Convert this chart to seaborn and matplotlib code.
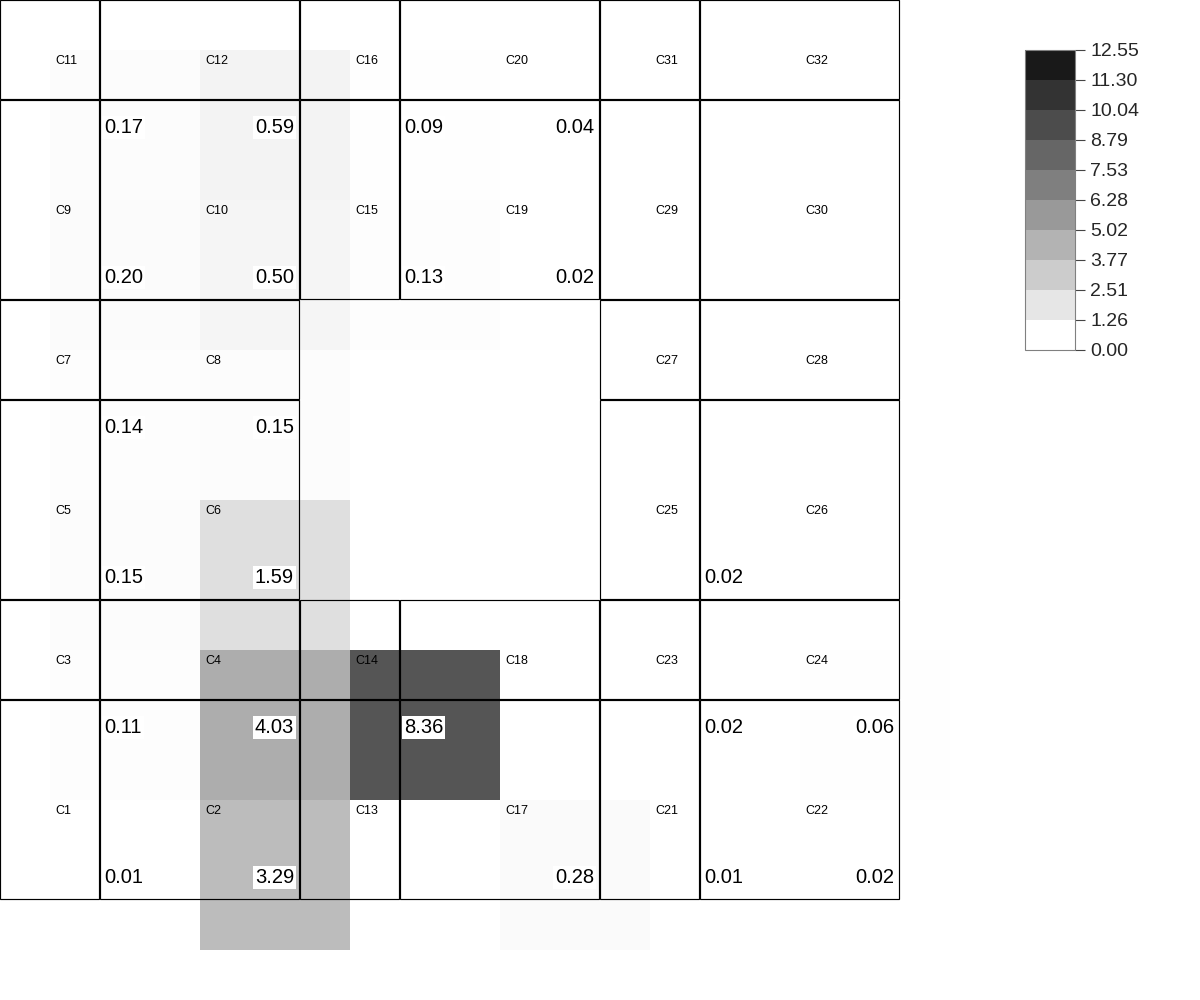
import numpy as np
import pandas as pd
import seaborn as sns
import matplotlib.pyplot as plt
from matplotlib.colors import ListedColormap, BoundaryNorm, Normalize
from matplotlib.colorbar import ColorbarBase
from matplotlib.patches import Rectangle

#%% data

# cell names, laid out as they appear (top row first)
cell_labels = [
    ["C11", "C12", "C16", "C20", "C31", "C32"],
    ["C9",  "C10", "C15", "C19", "C29", "C30"],
    ["C7",  "C8",  "",    "",    "C27", "C28"],
    ["C5",  "C6",  "",    "",    "C25", "C26"],
    ["C3",  "C4",  "C14", "C18", "C23", "C24"],
    ["C1",  "C2",  "C13", "C17", "C21", "C22"],
]

# values per cell, nan where nothing is shown
cell_values = [
    [0.17, 0.59, 0.09, 0.04, np.nan, np.nan],
    [0.20, 0.50, 0.13, 0.02, np.nan, np.nan],
    [0.14, 0.15, np.nan, np.nan, np.nan, np.nan],
    [0.15, 1.59, np.nan, np.nan, 0.02, np.nan],
    [0.11, 4.03, 8.36, np.nan, 0.02, 0.06],
    [0.01, 3.29, np.nan, 0.28, 0.01, 0.02],
]

cbar_bounds = [0.00, 1.26, 2.51, 3.77, 5.02, 6.28, 7.53, 8.79, 10.04, 11.30, 12.55]
cbar_labels = ["0.00", "1.26", "2.51", "3.77", "5.02", "6.28", "7.53", "8.79", "10.04", "11.30", "12.55"]

# wall positions of the floor plan (1 unit = 100 px)
wall_cols = [0, 1, 3, 4, 6, 7, 9]
wall_rows = [0, 1, 3, 4, 6, 7, 9]

#%% style
sns.set_style("white")
plt.rcParams['font.family'] = ['Liberation Sans', 'DejaVu Sans']

vmin, vmax = cbar_bounds[0], cbar_bounds[-1]
cmap = plt.get_cmap("gray_r")

df = pd.DataFrame(cell_values)

fig = plt.figure(figsize=(12, 10), dpi=100)

# heatmap sits on px 50..950 in both directions
ax_heat = fig.add_axes([50 / 1200, 0.05, 900 / 1200, 0.9])
sns.heatmap(df, ax=ax_heat, cmap=cmap, vmin=vmin, vmax=vmax, cbar=False,
            xticklabels=False, yticklabels=False)
ax_heat.set_xlabel("")
ax_heat.set_ylabel("")
ax_heat.axis("off")

# overlay in plan units, y downward
ax = fig.add_axes([0, 0, 1000 / 1200, 1])
ax.set_xlim(0, 10)
ax.set_ylim(10, 0)
ax.axis("off")
ax.patch.set_visible(False)

# rooms = the wall grid minus the middle block (hallway)
# each room outline is inset half a pixel so shared walls come out doubled
half_px = 0.005
for i in range(6):
    for j in range(6):
        if cell_labels[i][j] == "":
            continue
        x0, x1 = wall_cols[j], wall_cols[j + 1]
        y0, y1 = wall_rows[i], wall_rows[i + 1]
        ax.add_patch(Rectangle((x0 + half_px, y0 + half_px),
                               x1 - x0 - 2 * half_px, y1 - y0 - 2 * half_px,
                               fill=False, edgecolor="black", lw=0.85,
                               snap=False, clip_on=False))

# cell names and values, placed in the heatmap cells
cell0, cell_w = 0.5, 1.5
for i in range(6):
    for j in range(6):
        left = cell0 + j * cell_w
        top = cell0 + i * cell_w
        if cell_labels[i][j]:
            ax.text(left + 0.05, top + 0.11, cell_labels[i][j], fontsize=9,
                    ha="left", va="center", color="black")
        v = cell_values[i][j]
        if not np.isnan(v):
            if j % 2 == 0:
                xt, ha = left + 0.54, "left"
            else:
                xt, ha = left + cell_w - 0.56, "right"
            ax.text(xt, top + cell_w / 2 + 0.025, f"{v:.2f}", fontsize=14.5,
                    ha=ha, va="center", color="black",
                    bbox=dict(boxstyle="square,pad=0.1", fc="white", ec="none"))

#%% discrete colorbar
norm_c = Normalize(vmin, vmax)
level_colors = [cmap(norm_c(b)) for b in cbar_bounds[:-1]]
cax = fig.add_axes([1025 / 1200, 0.65, 50 / 1200, 0.3])
cb = ColorbarBase(cax, cmap=ListedColormap(level_colors),
                  norm=BoundaryNorm(cbar_bounds, len(level_colors)),
                  ticks=cbar_bounds, orientation="vertical")
cb.set_ticklabels(cbar_labels)
cb.outline.set_edgecolor("#808080")
cb.outline.set_linewidth(0.8)
cax.tick_params(length=7, width=0.8, color="#444444", labelsize=14, pad=4)

fig.savefig("out.png", dpi=100, facecolor="white")
